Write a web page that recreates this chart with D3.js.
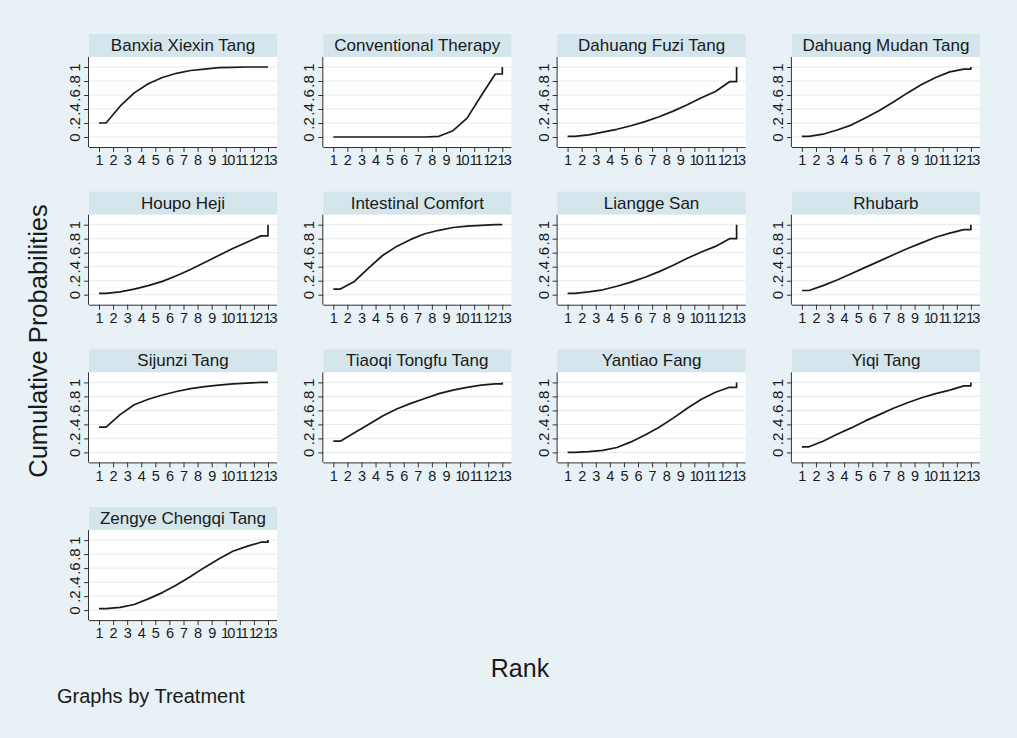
<!DOCTYPE html>
<html>
<head>
<meta charset="utf-8">
<script src="https://cdn.jsdelivr.net/npm/d3@7"></script>
<style>
  html, body { margin: 0; padding: 0; background: #e8f1f5; }
  svg { display: block; font-family: "Liberation Sans", Arial, sans-serif; }
</style>
</head>
<body>
<svg id="chart" width="1017" height="738"></svg>
<script>
// ---- Data ----
const treatments = [
  "Banxia Xiexin Tang", "Conventional Therapy", "Dahuang Fuzi Tang", "Dahuang Mudan Tang",
  "Houpo Heji", "Intestinal Comfort", "Liangge San", "Rhubarb",
  "Sijunzi Tang", "Tiaoqi Tongfu Tang", "Yantiao Fang", "Yiqi Tang",
  "Zengye Chengqi Tang"
];
const ranks = [1, 2, 3, 4, 5, 6, 7, 8, 9, 10, 11, 12, 13];
const yTicks = [0, 0.2, 0.4, 0.6, 0.8, 1];
const yTickLabels = ["0", ".2", ".4", ".6", ".8", "1"];

// cumulative probability of being within rank 1..12 (rank 13 = 1)
const banxiaXiexinTang   = [0.20, 0.44, 0.63, 0.76, 0.85, 0.91, 0.95, 0.97, 0.99, 0.995, 1.00, 1.00];
const conventional       = [0.00, 0.00, 0.00, 0.00, 0.00, 0.00, 0.00, 0.01, 0.09, 0.27, 0.59, 0.90];
const dahuangFuziTang    = [0.01, 0.03, 0.07, 0.11, 0.16, 0.22, 0.29, 0.37, 0.46, 0.56, 0.65, 0.79];
const dahuangMudanTang   = [0.01, 0.04, 0.10, 0.17, 0.27, 0.38, 0.50, 0.63, 0.75, 0.85, 0.93, 0.97];
const houpoHeji          = [0.02, 0.04, 0.08, 0.13, 0.19, 0.27, 0.36, 0.46, 0.56, 0.66, 0.75, 0.84];
const intestinalComfort  = [0.08, 0.19, 0.38, 0.56, 0.69, 0.79, 0.87, 0.92, 0.96, 0.98, 0.99, 1.00];
const lianggeSan         = [0.02, 0.04, 0.07, 0.12, 0.18, 0.25, 0.33, 0.42, 0.52, 0.61, 0.69, 0.80];
const rhubarb            = [0.06, 0.13, 0.21, 0.30, 0.39, 0.48, 0.57, 0.66, 0.74, 0.82, 0.88, 0.93];
const sijunziTang        = [0.36, 0.54, 0.68, 0.76, 0.82, 0.87, 0.91, 0.94, 0.96, 0.98, 0.99, 1.00];
const tiaoqiTongfuTang   = [0.16, 0.28, 0.40, 0.52, 0.62, 0.70, 0.77, 0.84, 0.89, 0.93, 0.96, 0.98];
const yantiaoFang        = [0.00, 0.01, 0.03, 0.07, 0.15, 0.25, 0.36, 0.49, 0.63, 0.76, 0.86, 0.93];
const yiqiTang           = [0.08, 0.16, 0.26, 0.35, 0.45, 0.54, 0.63, 0.71, 0.78, 0.84, 0.89, 0.95];
const zengyeChengqiTang  = [0.02, 0.04, 0.08, 0.16, 0.25, 0.36, 0.48, 0.61, 0.73, 0.84, 0.91, 0.97];

const series = [
  banxiaXiexinTang, conventional, dahuangFuziTang, dahuangMudanTang,
  houpoHeji, intestinalComfort, lianggeSan, rhubarb,
  sijunziTang, tiaoqiTongfuTang, yantiaoFang, yiqiTang,
  zengyeChengqiTang
];

// ---- Layout ----
const svg = d3.select("#chart");
svg.append("rect").attr("width", 1017).attr("height", 738).attr("fill", "#e8f1f5");

const colX0 = 89, colStep = 234.3, plotW = 188;
const rowY0 = 57, rowStep = 157.7, plotH = 90;
const bandH = 23;

treatments.forEach((name, i) => {
  const c = i % 4, r = Math.floor(i / 4);
  const x0 = colX0 + c * colStep;
  const top = rowY0 + r * rowStep;
  const g = svg.append("g");

  const x = d3.scaleLinear().domain([1, 13]).range([x0 + 10, x0 + plotW - 9]);
  const y = d3.scaleLinear().domain([0, 1]).range([top + plotH - 10, top + 10]);

  // title band
  g.append("rect").attr("x", x0).attr("y", top - bandH).attr("width", plotW).attr("height", bandH)
    .attr("fill", "#d4e5ec");
  g.append("text").attr("x", x0 + plotW / 2).attr("y", top - 6)
    .attr("text-anchor", "middle").attr("font-size", 17).attr("fill", "#1a1a1a").text(name);

  // plot region
  g.append("rect").attr("x", x0).attr("y", top).attr("width", plotW).attr("height", plotH)
    .attr("fill", "#ffffff");

  // gridlines
  g.selectAll("line.grid").data(yTicks).enter().append("line")
    .attr("x1", x0).attr("x2", x0 + plotW)
    .attr("y1", d => y(d)).attr("y2", d => y(d))
    .attr("stroke", "#e3eaee").attr("stroke-width", 1);

  // axes
  const xAxis = d3.axisBottom(x).tickValues(ranks).tickSize(5).tickSizeOuter(0);
  const gx = g.append("g").attr("transform", `translate(0,${top + plotH})`).call(xAxis);
  gx.select(".domain").attr("d", `M${x0},0.5H${x0 + plotW}`).attr("stroke", "#333");
  gx.selectAll(".tick line").attr("stroke", "#333");
  gx.selectAll(".tick text").attr("font-size", 14.5).attr("fill", "#1a1a1a")
    .attr("font-family", "Liberation Sans, Arial, sans-serif").attr("y", 8).attr("dy", "0.71em")
    .attr("letter-spacing", d => d >= 10 ? "-1.8px" : null)
    .attr("dx", d => d >= 10 ? 0.9 : null);

  const yAxis = d3.axisLeft(y).tickValues(yTicks).tickSize(5).tickSizeOuter(0)
    .tickFormat((d, k) => yTickLabels[k]);
  const gy = g.append("g").attr("transform", `translate(${x0},0)`).call(yAxis);
  gy.select(".domain").attr("d", `M-0.5,${top}V${top + plotH}`).attr("stroke", "#333");
  gy.selectAll(".tick line").attr("stroke", "#333");
  gy.selectAll(".tick text").attr("font-size", 15).attr("fill", "#1a1a1a")
    .attr("font-family", "Liberation Sans, Arial, sans-serif")
    .attr("x", null).attr("dy", null)
    .attr("text-anchor", "middle")
    .attr("transform", "translate(-9,0) rotate(-90)");

  // curve
  const vals = series[i];
  const pts = [[1, vals[0]]]
    .concat(vals.map((v, k) => [ranks[k] + 0.5, v]))
    .concat([[13, vals[vals.length - 1]], [13, 1]]);
  const line = d3.line().x(d => x(d[0])).y(d => y(d[1]));
  g.append("path").datum(pts).attr("d", line)
    .attr("fill", "none").attr("stroke", "#1a1a1a").attr("stroke-width", 1.7)
    .attr("stroke-linejoin", "round");
});

// overall titles
svg.append("text").attr("transform", "translate(47,341) rotate(-90)")
  .attr("text-anchor", "middle").attr("font-size", 25.5).attr("fill", "#1a1a1a")
  .text("Cumulative Probabilities");
svg.append("text").attr("x", 520).attr("y", 677)
  .attr("text-anchor", "middle").attr("font-size", 25).attr("fill", "#1a1a1a").text("Rank");
svg.append("text").attr("x", 57).attr("y", 703)
  .attr("font-size", 20).attr("fill", "#1a1a1a").text("Graphs by Treatment");
</script>
</body>
</html>
